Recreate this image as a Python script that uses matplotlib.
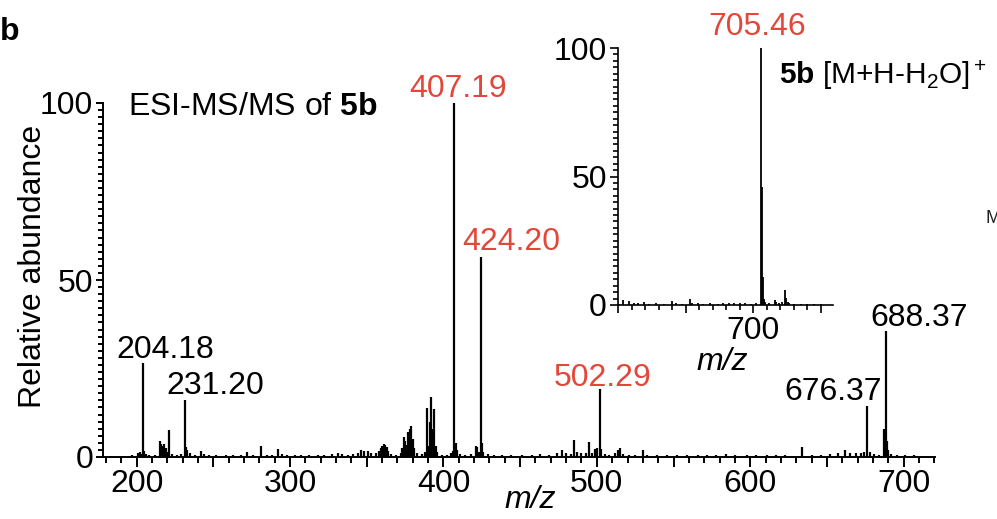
import numpy as np
import matplotlib
matplotlib.use("Agg")
import matplotlib.pyplot as plt
from matplotlib.ticker import MultipleLocator, FuncFormatter

plt.rcParams['font.family'] = ['Liberation Sans', 'DejaVu Sans']
plt.rcParams['mathtext.fontset'] = 'custom'
plt.rcParams['mathtext.rm'] = 'Liberation Sans'
plt.rcParams['mathtext.bf'] = 'Liberation Sans:bold'
plt.rcParams['mathtext.it'] = 'Liberation Sans:italic'

RED = '#e2473a'
FS = 23

# main ESI-MS/MS spectrum (m/z, relative abundance)
main_mz = [183, 190, 197, 201, 202, 203, 204.18, 205, 206, 208, 212, 215, 216, 217, 218, 219, 220, 221, 223,
           226, 229, 231.20, 232, 233, 235, 238, 242, 244, 247, 252, 258, 263, 268, 272, 276, 281, 285, 288,
           292, 295, 298, 303, 307, 312, 318, 322, 327, 331, 334, 338, 341, 344, 346, 348, 351, 353, 356,
           358, 359, 360, 361, 362, 363, 364, 366, 369, 372, 373, 374, 375, 376, 377, 378, 379, 380, 381,
           383, 386, 388, 389, 390, 391, 392, 393, 394, 395, 396, 399, 402, 405, 406, 407.19, 408, 409, 411,
           414, 418, 421, 422, 423, 424.20, 425, 426, 429, 433, 438, 444, 451, 458, 463, 469, 474, 477, 480,
           483, 485, 487, 490, 493, 495, 497, 499, 500, 502.29, 503, 505, 508, 512, 514, 515, 517, 521, 525,
           530, 533, 539, 546, 552, 559, 566, 572, 578, 584, 590, 598, 604, 611, 617, 623, 634, 640, 646,
           652, 657, 662, 665, 669, 672, 674, 676.37, 678, 681, 684, 687, 688.37, 689, 690, 692, 696, 701,
           707, 713, 718]
main_int = [0.3, 0.4, 0.5, 1.2, 1.5, 0.8, 26.5, 1.8, 0.9, 0.6, 0.5, 4.5, 3.8, 3.2, 3.8, 2.5, 1.5, 7.6, 0.8,
            0.6, 0.9, 16.1, 2.8, 2.0, 1.0, 0.6, 1.6, 0.8, 0.6, 0.5, 0.6, 0.5, 0.7, 1.5, 0.6, 3.0, 0.7, 0.6,
            2.4, 0.8, 0.6, 0.7, 0.5, 0.6, 0.5, 0.6, 0.8, 1.2, 0.9, 0.7, 0.9, 1.2, 2.0, 1.6, 1.8, 1.2, 1.0,
            1.6, 2.6, 3.2, 3.8, 3.4, 2.8, 1.8, 0.8, 0.7, 1.2, 2.5, 5.7, 4.5, 3.5, 7.0, 7.9, 8.8, 5.2, 2.5,
            1.0, 0.8, 1.5, 13.9, 3.0, 10.0, 16.9, 8.0, 13.5, 3.0, 1.5, 0.7, 0.6, 1.0, 1.6, 100, 4.0, 2.0, 0.8,
            0.6, 0.8, 3.0, 2.8, 1.5, 56.5, 4.0, 1.5, 0.8, 0.6, 0.5, 0.6, 0.7, 0.5, 0.8, 0.6, 1.0, 2.0, 1.2,
            0.9, 4.8, 1.3, 1.0, 1.2, 4.1, 1.0, 2.4, 2.6, 19.1, 2.2, 0.8, 0.6, 1.0, 2.0, 2.5, 0.9, 0.6, 0.7,
            2.0, 0.6, 0.5, 0.6, 0.5, 0.6, 0.5, 0.7, 0.6, 0.8, 0.7, 0.6, 0.7, 0.5, 0.6, 0.7, 2.8, 0.6, 0.7,
            0.8, 1.2, 2.0, 1.0, 1.2, 1.0, 1.5, 14.4, 1.5, 0.8, 0.7, 8.0, 35.7, 4.5, 2.0, 0.8, 0.6, 0.5,
            0.5, 0.4, 0.4]

# inset: precursor region
inset_mz = [601, 604, 608, 612, 615, 619, 623, 628, 634, 640, 643, 647, 653, 655, 659, 663, 668, 674, 678,
            682, 686, 690, 694, 698, 702, 705.46, 706.3, 707.2, 708, 709, 712, 716, 717, 719, 721, 723.47,
            724.5, 725.5, 726.5, 730, 735, 740, 745, 750]
inset_int = [0.5, 1.8, 1.5, 0.7, 0.9, 1.0, 0.5, 0.7, 0.5, 1.5, 0.6, 0.5, 2.2, 0.8, 0.6, 0.5, 0.6, 0.5, 0.8,
             0.7, 0.9, 0.6, 0.8, 0.5, 0.6, 100, 46, 11, 2.5, 1.0, 0.6, 1.8, 1.2, 0.8, 1.0, 5.8,
             2.8, 1.2, 0.6, 0.5, 0.5, 0.4, 0.5, 0.4]

# labelled peaks: (m/z, text, colour, offset px)
main_labels = [(204.18, '204.18', 'k', (22, 5)),
               (231.20, '231.20', 'k', (31, 6)),
               (407.19, '407.19', RED, (4, 6)),
               (424.20, '424.20', RED, (31, 7)),
               (502.29, '502.29', RED, (2, 3)),
               (676.37, '676.37', 'k', (-34, 6)),
               (688.37, '688.37', 'k', (33, 5))]
inset_labels = [(705.46, '705.46', RED, (-3, 13))]


def style_axis(ax, lw):
    for s in ['top', 'right']:
        ax.spines[s].set_visible(False)
    for s in ['left', 'bottom']:
        ax.spines[s].set_linewidth(lw)
    ax.tick_params(which='both', direction='out', width=lw, labelsize=FS, pad=2)


fig = plt.figure(figsize=(9.97, 5.19), dpi=100)

# ---- main spectrum ----
ax = fig.add_axes([103 / 997, 1 - 457 / 519, (935 - 103) / 997, (457 - 103) / 519])
ax.vlines(main_mz, 0, main_int, color='k', lw=1.6)
ax.set_xlim(178, 720.5)
ax.set_ylim(0, 100)
style_axis(ax, 1.4)
# long ticks every 50, labels only on the hundreds
ax.xaxis.set_major_locator(MultipleLocator(50))
ax.xaxis.set_major_formatter(FuncFormatter(lambda v, p: '%d' % v if v % 100 == 0 else ''))
ax.xaxis.set_minor_locator(MultipleLocator(10))
ax.yaxis.set_major_locator(MultipleLocator(50))
ax.yaxis.set_minor_locator(MultipleLocator(2))
ax.tick_params(axis='x', which='major', length=7)
ax.tick_params(axis='x', which='minor', length=4.5)
ax.tick_params(axis='y', which='major', length=5)
ax.tick_params(axis='y', which='minor', length=3.5)

for mz, txt, col, off in main_labels:
    y = main_int[main_mz.index(mz)]
    ax.annotate(txt, (mz, y), xytext=off, textcoords='offset pixels',
                ha='center', va='baseline', fontsize=FS, color=col, annotation_clip=False)

ax.text(128 / 997, 1 - 115 / 519, r'ESI-MS/MS of $\mathbf{5b}$', transform=fig.transFigure,
        fontsize=FS, va='baseline', ha='left')

# ---- inset ----
ins = fig.add_axes([618 / 997, 1 - 305 / 519, (833 - 618) / 997, (305 - 48) / 519])
ins.patch.set_alpha(0)
ins.vlines(inset_mz, 0, inset_int, color='k', lw=1.3)
ins.set_xlim(600, 759)
ins.set_ylim(0, 100)
style_axis(ins, 1.2)
ins.xaxis.set_major_locator(MultipleLocator(50))
ins.xaxis.set_major_formatter(FuncFormatter(lambda v, p: '%d' % v if v == 700 else ''))
ins.xaxis.set_minor_locator(MultipleLocator(10))
ins.yaxis.set_major_locator(MultipleLocator(50))
ins.yaxis.set_minor_locator(MultipleLocator(2.5))
ins.tick_params(which='major', length=6)
ins.tick_params(which='minor', length=3.5)
for mz, txt, col, off in inset_labels:
    y = inset_int[inset_mz.index(mz)]
    ins.annotate(txt, (mz, y), xytext=off, textcoords='offset pixels',
                 ha='center', va='baseline', fontsize=FS, color=col, annotation_clip=False)
ins.text(779 / 997, 1 - 84 / 519, r'$\mathbf{5b}$ [M+H-H$_2$O]$^+$', transform=fig.transFigure,
         fontsize=21.5, va='baseline', ha='left')
fig.text(722 / 997, 1 - 362 / 519, 'm/z', style='italic', fontsize=FS, ha='center', va='center')

# ---- figure texts ----
fig.text(0.0, 1 - 40 / 519, 'b', fontsize=FS, fontweight='bold', ha='left', va='baseline')
fig.text(33 / 997, 1 - 266 / 519, 'Relative abundance', rotation=90, fontsize=FS, ha='center', va='center')
fig.text(530 / 997, 1 - 485 / 519, 'm/z', style='italic', fontsize=FS, ha='center', va='top')
fig.text(985 / 997, 1 - 223 / 519, 'M', fontsize=13, ha='left', va='baseline', color='#222222')

fig.savefig('out.png', dpi=100)
